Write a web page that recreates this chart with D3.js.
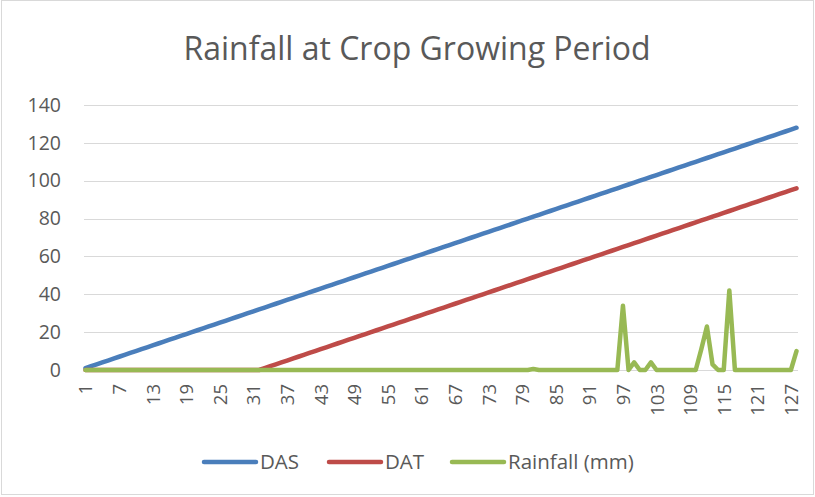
<!DOCTYPE html>
<html>
<head>
<meta charset="utf-8">
<script src="https://cdn.jsdelivr.net/npm/d3@7"></script>
<style>
    body { margin: 0; background: #fff; }
    svg { display: block; font-family: "Open Sans", "Noto Sans", sans-serif; }
</style>
</head>
<body>
<div id="chart"></div>
<script>

// Days after sowing (x categories)
let days = [
    1, 2, 3, 4, 5, 6, 7, 8, 9, 10, 11, 12, 13, 14, 15, 16,
    17, 18, 19, 20, 21, 22, 23, 24, 25, 26, 27, 28, 29, 30, 31, 32,
    33, 34, 35, 36, 37, 38, 39, 40, 41, 42, 43, 44, 45, 46, 47, 48,
    49, 50, 51, 52, 53, 54, 55, 56, 57, 58, 59, 60, 61, 62, 63, 64,
    65, 66, 67, 68, 69, 70, 71, 72, 73, 74, 75, 76, 77, 78, 79, 80,
    81, 82, 83, 84, 85, 86, 87, 88, 89, 90, 91, 92, 93, 94, 95, 96,
    97, 98, 99, 100, 101, 102, 103, 104, 105, 106, 107, 108, 109, 110, 111, 112,
    113, 114, 115, 116, 117, 118, 119, 120, 121, 122, 123, 124, 125, 126, 127, 128
];

// DAS series
let das = [
    1, 2, 3, 4, 5, 6, 7, 8, 9, 10, 11, 12, 13, 14, 15, 16,
    17, 18, 19, 20, 21, 22, 23, 24, 25, 26, 27, 28, 29, 30, 31, 32,
    33, 34, 35, 36, 37, 38, 39, 40, 41, 42, 43, 44, 45, 46, 47, 48,
    49, 50, 51, 52, 53, 54, 55, 56, 57, 58, 59, 60, 61, 62, 63, 64,
    65, 66, 67, 68, 69, 70, 71, 72, 73, 74, 75, 76, 77, 78, 79, 80,
    81, 82, 83, 84, 85, 86, 87, 88, 89, 90, 91, 92, 93, 94, 95, 96,
    97, 98, 99, 100, 101, 102, 103, 104, 105, 106, 107, 108, 109, 110, 111, 112,
    113, 114, 115, 116, 117, 118, 119, 120, 121, 122, 123, 124, 125, 126, 127, 128
];

// DAT series (zero before transplanting)
let dat = [
    0, 0, 0, 0, 0, 0, 0, 0, 0, 0, 0, 0, 0, 0, 0, 0,
    0, 0, 0, 0, 0, 0, 0, 0, 0, 0, 0, 0, 0, 0, 0, 0,
    1, 2, 3, 4, 5, 6, 7, 8, 9, 10, 11, 12, 13, 14, 15, 16,
    17, 18, 19, 20, 21, 22, 23, 24, 25, 26, 27, 28, 29, 30, 31, 32,
    33, 34, 35, 36, 37, 38, 39, 40, 41, 42, 43, 44, 45, 46, 47, 48,
    49, 50, 51, 52, 53, 54, 55, 56, 57, 58, 59, 60, 61, 62, 63, 64,
    65, 66, 67, 68, 69, 70, 71, 72, 73, 74, 75, 76, 77, 78, 79, 80,
    81, 82, 83, 84, 85, 86, 87, 88, 89, 90, 91, 92, 93, 94, 95, 96
];

// Rainfall (mm)
let rainfall = [
    0, 0, 0, 0, 0, 0, 0, 0, 0, 0, 0, 0, 0, 0, 0, 0,
    0, 0, 0, 0, 0, 0, 0, 0, 0, 0, 0, 0, 0, 0, 0, 0,
    0, 0, 0, 0, 0, 0, 0, 0, 0, 0, 0, 0, 0, 0, 0, 0,
    0, 0, 0, 0, 0, 0, 0, 0, 0, 0, 0, 0, 0, 0, 0, 0,
    0, 0, 0, 0, 0, 0, 0, 0, 0, 0, 0, 0, 0, 0, 0, 0,
    0.5, 0, 0, 0, 0, 0, 0, 0, 0, 0, 0, 0, 0, 0, 0, 0,
    34, 0, 4, 0, 0, 4, 0, 0, 0, 0, 0, 0, 0, 0, 11, 23,
    3, 0, 0, 42, 0, 0, 0, 0, 0, 0, 0, 0, 0, 0, 0, 10
];

let yTicks = [0, 20, 40, 60, 80, 100, 120, 140];
let xTickLabels = [1, 7, 13, 19, 25, 31, 37, 43, 49, 55, 61, 67, 73, 79, 85, 91, 97, 103, 109, 115, 121, 127];

let seriesNames = ["DAS", "DAT", "Rainfall (mm)"];
let seriesColors = ["#4a7ebb", "#be4b48", "#98b954"];

let width = 815, height = 497;
let margin = {top: 105, right: 17, bottom: 127, left: 84};

let svg = d3.select("#chart").append("svg")
    .attr("width", width)
    .attr("height", height);

// outer chart border
svg.append("rect")
    .attr("x", 1.5).attr("y", 0.5)
    .attr("width", width - 3).attr("height", height - 3)
    .attr("fill", "#fff")
    .attr("stroke", "#d9d9d9");

// title
svg.append("text")
    .attr("x", 417)
    .attr("y", 60)
    .attr("text-anchor", "middle")
    .attr("font-size", 32)
    .attr("fill", "#595959")
    .text("Rainfall at Crop Growing Period");

let plotW = width - margin.left - margin.right;
let plotH = height - margin.top - margin.bottom;

let g = svg.append("g")
    .attr("transform", "translate(" + margin.left + "," + margin.top + ")");

let x = d3.scalePoint()
    .domain(days)
    .range([1.5, plotW - 1.5]);

let y = d3.scaleLinear()
    .domain([0, 140])
    .range([plotH, 0]);

// gridlines
g.append("g")
    .attr("class", "grid")
    .selectAll("line")
    .data(yTicks)
    .enter().append("line")
    .attr("x1", 0)
    .attr("x2", plotW)
    .attr("y1", d => Math.round(y(d)) + 0.5)
    .attr("y2", d => Math.round(y(d)) + 0.5)
    .attr("stroke", "#d9d9d9")
    .attr("stroke-width", 1);

// y axis labels
let yAxis = d3.axisLeft(y)
    .tickValues(yTicks)
    .tickSize(0)
    .tickPadding(23);

g.append("g")
    .attr("class", "y-axis")
    .call(yAxis)
    .call(a => a.select(".domain").remove())
    .selectAll("text")
    .attr("font-size", 19.5)
    .attr("font-family", "Open Sans, sans-serif")
    .attr("fill", "#595959");

// x axis labels (rotated)
let xAxis = d3.axisBottom(x)
    .tickValues(xTickLabels)
    .tickSize(0)
    .tickPadding(0);

g.append("g")
    .attr("class", "x-axis")
    .attr("transform", "translate(0," + plotH + ")")
    .call(xAxis)
    .call(a => a.select(".domain").remove())
    .selectAll("text")
    .attr("font-size", 18.5)
    .attr("font-family", "Open Sans, sans-serif")
    .attr("fill", "#595959")
    .attr("text-anchor", "end")
    .attr("dy", "0.35em")
    .attr("transform", "translate(0,14) rotate(-90)")
    .attr("x", 0)
    .attr("y", 0);

// lines
let seriesData = [das, dat, rainfall];

let line = d3.line()
    .x((d, i) => x(days[i]))
    .y(d => y(d));

g.selectAll(".series")
    .data(seriesData)
    .enter().append("path")
    .attr("class", "series")
    .attr("fill", "none")
    .attr("stroke", (d, i) => seriesColors[i])
    .attr("stroke-width", 4.5)
    .attr("stroke-linejoin", "round")
    .attr("stroke-linecap", "round")
    .attr("d", d => line(d));

// legend
let legendX = [202, 327, 450];
let legend = svg.append("g")
    .attr("class", "legend")
    .selectAll("g")
    .data(seriesNames)
    .enter().append("g")
    .attr("transform", (d, i) => "translate(" + legendX[i] + ",462)");

legend.append("line")
    .attr("x1", 2).attr("x2", 54)
    .attr("y1", 0).attr("y2", 0)
    .attr("stroke", (d, i) => seriesColors[i])
    .attr("stroke-width", 4.5)
    .attr("stroke-linecap", "round");

legend.append("text")
    .attr("x", 58)
    .attr("y", 0)
    .attr("dy", "0.35em")
    .attr("font-size", 20.5)
    .attr("fill", "#595959")
    .text(d => d);

</script>
</body>
</html>
